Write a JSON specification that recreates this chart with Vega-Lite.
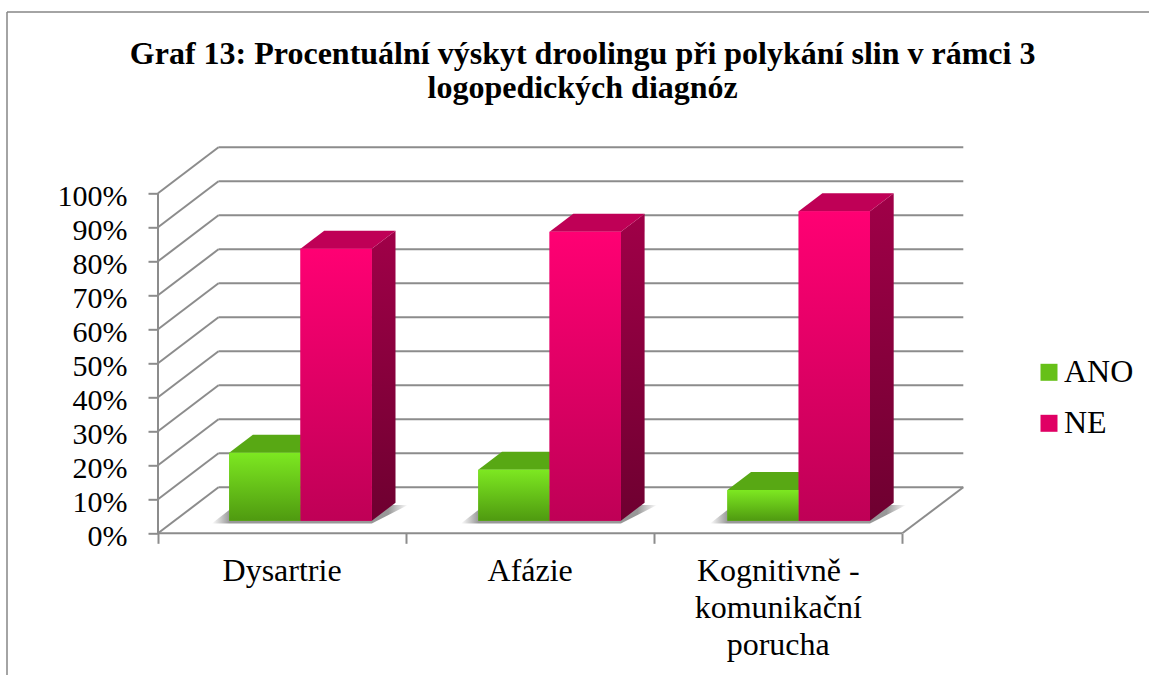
{
"$schema":"https://vega.github.io/schema/vega-lite/v6.json",
"autosize":"none","width":805.3,"height":386,
"padding":{"left":158,"top":147.3,"right":185.7,"bottom":141.7},
"background":"white",
"config":{"view":{"stroke":null},"font":"Liberation Serif"},
"title":{"text":["Graf 13: Procentuální výskyt droolingu při polykání slin v rámci 3","logopedických diagnóz"],"font":"Liberation Serif","fontSize":32,"fontWeight":"bold","color":"#000000","anchor":"middle","frame":"group","dx":22,"offset":-94,"lineHeight":34},
"datasets":{
"bars":[
{"diagnoza":"Dysartrie","serie":"ANO","hodnota":20},
{"diagnoza":"Dysartrie","serie":"NE","hodnota":80},
{"diagnoza":"Afázie","serie":"ANO","hodnota":15},
{"diagnoza":"Afázie","serie":"NE","hodnota":85},
{"diagnoza":"Kognitivně -\nkomunikační\nporucha","serie":"ANO","hodnota":9},
{"diagnoza":"Kognitivně -\nkomunikační\nporucha","serie":"NE","hodnota":91}],
"mrizka":[{"p":0},{"p":10},{"p":20},{"p":30},{"p":40},{"p":50},{"p":60},{"p":70},{"p":80},{"p":90},{"p":100}],
"ramec":[{"cast":"levy","x":-0.6086,"x2":-0.6086,"y":153.3,"y2":-50},{"cast":"horni","x":-0.6086,"x2":4,"y":153.3,"y2":153.3}],
"podlaha":[{"cast":"osa","x":0,"x2":0,"y":0,"y2":100},{"cast":"predni","x":0,"x2":3,"y":0,"y2":0},{"cast":"prava","x":3,"x2":3.2459,"y":0,"y2":13.53}]
},
"encoding":{
"x":{"field":"x","type":"quantitative","scale":{"domain":[0,3.2459],"nice":false,"zero":false},"axis":{"values":[0,1,2,3],"labels":false,"title":null,"domain":false,"grid":false,"ticks":true,"tickSize":10,"tickColor":"#8c8c8c","tickWidth":2}},
"y":{"field":"y","type":"quantitative","scale":{"domain":[0,113.53],"nice":false,"zero":false},"axis":{"values":[0,10,20,30,40,50,60,70,80,90,100],"format":".0f","labelExpr":"datum.label + '%'","title":null,"domain":false,"grid":false,"ticks":true,"tickSize":10,"tickColor":"#8c8c8c","tickWidth":2,"labelFont":"Liberation Serif","labelFontSize":30,"labelColor":"#000000","labelPadding":21,"labelOffset":3}}
},
"layer":[
{"data":{"name":"ramec"},"mark":{"type":"rule","color":"#868686","strokeWidth":1.5},"encoding":{"x2":{"field":"x2"},"y2":{"field":"y2"}}},
{"data":{"name":"podlaha"},"mark":{"type":"rule","color":"#8c8c8c","strokeWidth":2},"encoding":{"x2":{"field":"x2"},"y2":{"field":"y2"}}},
{"data":{"name":"mrizka"},"transform":[{"calculate":"0","as":"x"},{"calculate":"0.2439","as":"x2"},{"calculate":"datum.p","as":"y"},{"calculate":"datum.p+13.53","as":"y2"}],"mark":{"type":"rule","color":"#8c8c8c","strokeWidth":2},"encoding":{"x2":{"field":"x2"},"y2":{"field":"y2"}}},
{"data":{"name":"mrizka"},"transform":[{"calculate":"0.2439","as":"x"},{"calculate":"3.2459","as":"x2"},{"calculate":"datum.p+13.53","as":"y"}],"mark":{"type":"rule","color":"#8c8c8c","strokeWidth":2},"encoding":{"x2":{"field":"x2"}}},
{"data":{"name":"bars"},"transform":[
{"filter":"datum.serie=='NE'"},
{"calculate":"indexof(['Dysartrie','Afázie'],datum.diagnoza)<0?2:indexof(['Dysartrie','Afázie'],datum.diagnoza)","as":"i"},
{"calculate":"[0,1]","as":"t"},{"flatten":["t"]},
{"calculate":"datum.i*1.004+0.287-0.07+datum.t*0.0955","as":"x"},
{"calculate":"datum.i*1.004+0.287+0.2874*2+datum.t*0.0955+datum.t*0.05","as":"x2"},
{"calculate":"2.9+datum.t*5.4","as":"y"}],
"mark":{"type":"area","orient":"horizontal","fill":{"x1":0,"y1":0,"x2":1,"y2":0,"gradient":"linear","stops":[{"offset":0,"color":"#ffffff"},{"offset":0.09,"color":"#989898"},{"offset":0.9,"color":"#989898"},{"offset":1,"color":"#ffffff"}]}},
"encoding":{"x2":{"field":"x2"},"detail":{"field":"diagnoza"}}},
{"data":{"name":"bars"},"transform":[
{"calculate":"indexof(['Dysartrie','Afázie'],datum.diagnoza)<0?2:indexof(['Dysartrie','Afázie'],datum.diagnoza)","as":"i"},
{"calculate":"datum.i*1.004+0.287+(datum.serie=='NE'?0.2874:0)","as":"levy"},
{"calculate":"[0,1]","as":"t"},{"flatten":["t"]},
{"calculate":"datum.levy+0.2874+datum.t*0.0955","as":"x"},
{"calculate":"3.7+datum.hodnota+datum.t*5.3","as":"y"},
{"calculate":"3.7+datum.t*5.3","as":"y2"}],
"mark":{"type":"area","orient":"vertical"},
"encoding":{"y2":{"field":"y2"},"detail":[{"field":"diagnoza"},{"field":"serie"}],
"fill":{"condition":{"test":"datum.serie=='ANO'","value":{"x1":0,"y1":0,"x2":0,"y2":1,"gradient":"linear","stops":[{"offset":0,"color":"#58a814"},{"offset":1,"color":"#3b7a0c"}]}},"value":{"x1":0,"y1":0,"x2":0,"y2":1,"gradient":"linear","stops":[{"offset":0,"color":"#a00048"},{"offset":1,"color":"#6e0030"}]}}}},
{"data":{"name":"bars"},"transform":[
{"calculate":"indexof(['Dysartrie','Afázie'],datum.diagnoza)<0?2:indexof(['Dysartrie','Afázie'],datum.diagnoza)","as":"i"},
{"calculate":"datum.i*1.004+0.287+(datum.serie=='NE'?0.2874:0)","as":"levy"},
{"calculate":"[0,1]","as":"t"},{"flatten":["t"]},
{"calculate":"datum.levy+datum.t*0.0955","as":"x"},
{"calculate":"datum.levy+0.2874+datum.t*0.0955","as":"x2"},
{"calculate":"3.7+datum.hodnota+datum.t*5.3","as":"y"}],
"mark":{"type":"area","orient":"horizontal"},
"encoding":{"x2":{"field":"x2"},"detail":[{"field":"diagnoza"},{"field":"serie"}],
"fill":{"condition":{"test":"datum.serie=='ANO'","value":"#58a814"},"value":"#bf0056"}}},
{"data":{"name":"bars"},"transform":[
{"calculate":"indexof(['Dysartrie','Afázie'],datum.diagnoza)<0?2:indexof(['Dysartrie','Afázie'],datum.diagnoza)","as":"i"},
{"calculate":"datum.i*1.004+0.287+(datum.serie=='NE'?0.2874:0)","as":"x"},
{"calculate":"datum.x+0.2874","as":"x2"},
{"calculate":"3.7+datum.hodnota","as":"y"},
{"calculate":"3.7","as":"y2"}],
"mark":{"type":"rect"},
"encoding":{"x2":{"field":"x2"},"y2":{"field":"y2"},
"color":{"field":"serie","type":"nominal","scale":{"domain":["ANO","NE"],"range":["#66c018","#e00064"]},
"legend":{"title":null,"orient":"none","legendX":875,"legendY":209,"symbolType":"square","symbolSize":289,"symbolStrokeWidth":0,"labelFont":"Liberation Serif","labelFontSize":32,"labelColor":"#000000","rowPadding":19,"labelOffset":-1,
"encode":{"symbols":{"update":{"fill":{"signal":"datum.value=='ANO' ? {x1:0,y1:0,x2:0,y2:1,gradient:'linear',stops:[{offset:0,color:'#7de821'},{offset:1,color:'#4f9a10'}]} : {x1:0,y1:0,x2:0,y2:1,gradient:'linear',stops:[{offset:0,color:'#ff0073'},{offset:1,color:'#bf0056'}]}"},"opacity":{"value":1}}}}}}}},
{"data":{"name":"bars"},"transform":[
{"calculate":"indexof(['Dysartrie','Afázie'],datum.diagnoza)<0?2:indexof(['Dysartrie','Afázie'],datum.diagnoza)","as":"i"},
{"calculate":"datum.i*1.004+0.287+(datum.serie=='NE'?0.2874:0)","as":"x"},
{"calculate":"datum.x+0.2874","as":"x2"},
{"calculate":"3.7+datum.hodnota","as":"y"},
{"calculate":"3.7","as":"y2"}],
"mark":{"type":"rect"},
"encoding":{"x2":{"field":"x2"},"y2":{"field":"y2"},
"fill":{"condition":{"test":"datum.serie=='ANO'","value":{"x1":0,"y1":0,"x2":0,"y2":1,"gradient":"linear","stops":[{"offset":0,"color":"#7de821"},{"offset":1,"color":"#4f9a10"}]}},"value":{"x1":0,"y1":0,"x2":0,"y2":1,"gradient":"linear","stops":[{"offset":0,"color":"#ff0073"},{"offset":1,"color":"#bf0056"}]}}}},
{"data":{"name":"bars"},"transform":[{"filter":"datum.serie=='ANO'"},
{"calculate":"indexof(['Dysartrie','Afázie'],datum.diagnoza)<0?2:indexof(['Dysartrie','Afázie'],datum.diagnoza)","as":"i"},
{"calculate":"datum.i+0.5","as":"x"},{"calculate":"0","as":"y"}],
"mark":{"type":"text","align":"center","baseline":"alphabetic","dy":48,"lineBreak":"\n","lineHeight":36.7,"font":"Liberation Serif","fontSize":32,"color":"#000000"},
"encoding":{"text":{"field":"diagnoza"}}}
]
}
